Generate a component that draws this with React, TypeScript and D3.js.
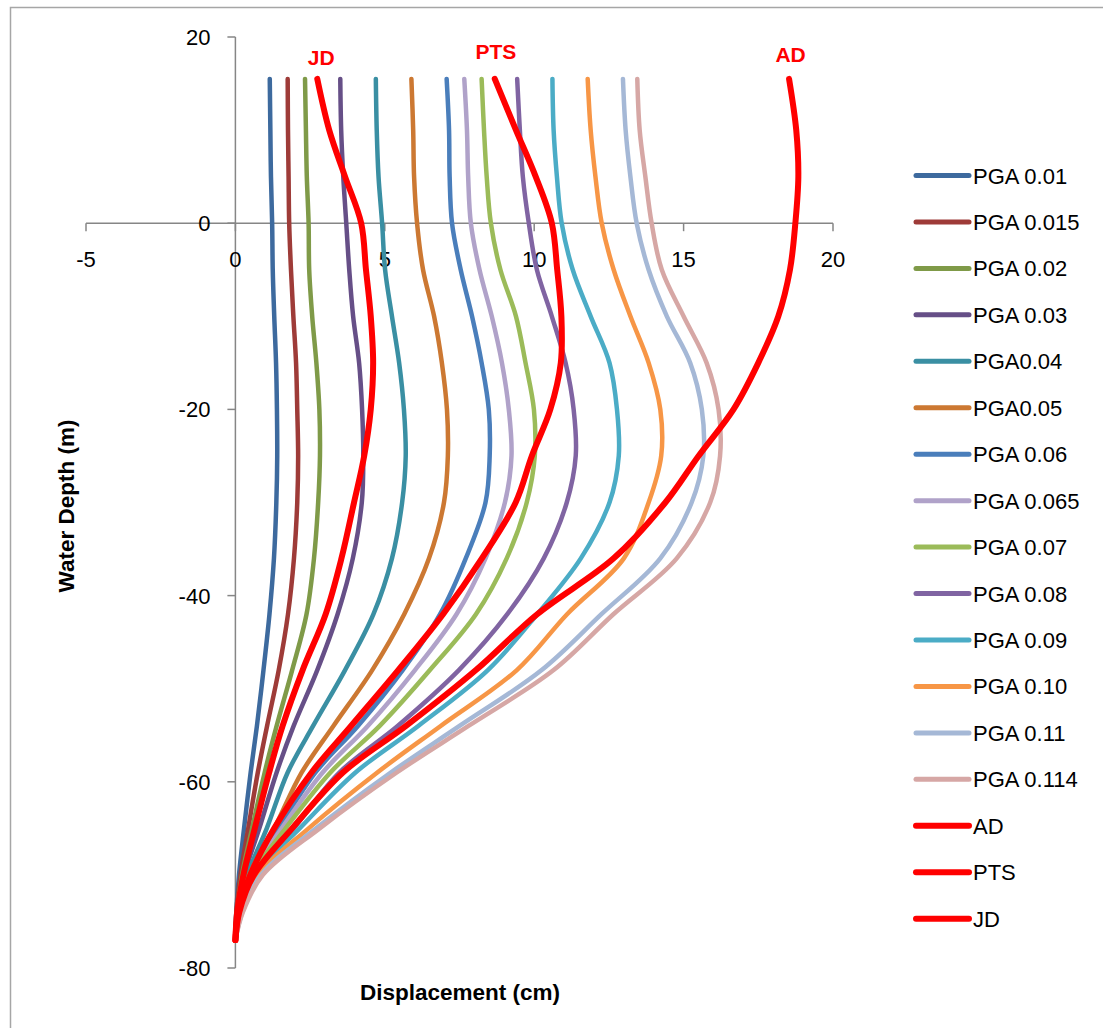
import React from "react";
import * as d3 from "d3";

const depths = [15.5, 10, 5, 0, -5, -10, -15, -20, -25, -30, -36, -42, -48, -54, -59, -65, -70, -74, -77];

const seriesNames = [
  "PGA 0.01", "PGA 0.015", "PGA 0.02", "PGA 0.03", "PGA0.04", "PGA0.05", "PGA 0.06", "PGA 0.065",
  "PGA 0.07", "PGA 0.08", "PGA 0.09", "PGA 0.10", "PGA 0.11", "PGA 0.114", "AD", "PTS", "JD",
];

const pga001 = [1.15, 1.17, 1.19, 1.23, 1.25, 1.30, 1.36, 1.39, 1.40, 1.37, 1.29, 1.14, 0.94, 0.72, 0.51, 0.29, 0.12, 0.03, 0];
const pga0015 = [1.75, 1.76, 1.78, 1.80, 1.86, 1.94, 2.03, 2.07, 2.10, 2.07, 1.96, 1.76, 1.45, 1.06, 0.75, 0.43, 0.17, 0.03, 0];
const pga002 = [2.33, 2.36, 2.39, 2.45, 2.47, 2.57, 2.71, 2.81, 2.83, 2.77, 2.63, 2.38, 1.90, 1.38, 0.98, 0.56, 0.22, 0.05, 0];
const pga003 = [3.51, 3.54, 3.61, 3.71, 3.81, 3.94, 4.14, 4.24, 4.28, 4.23, 3.93, 3.42, 2.74, 1.95, 1.38, 0.80, 0.30, 0.07, 0];
const pga004 = [4.70, 4.73, 4.79, 4.91, 5.01, 5.24, 5.48, 5.64, 5.70, 5.58, 5.24, 4.62, 3.67, 2.60, 1.75, 1.05, 0.40, 0.09, 0];
const pga005 = [5.89, 5.95, 5.98, 6.08, 6.28, 6.65, 6.91, 7.08, 7.11, 6.98, 6.48, 5.65, 4.58, 3.28, 2.22, 1.30, 0.46, 0.11, 0];
const pga006 = [7.07, 7.15, 7.17, 7.25, 7.54, 7.92, 8.24, 8.48, 8.51, 8.37, 7.71, 6.85, 5.60, 4.10, 2.68, 1.45, 0.50, 0.12, 0];
const pga0065 = [7.66, 7.75, 7.79, 7.88, 8.17, 8.58, 8.92, 9.15, 9.24, 9.02, 8.37, 7.40, 6.01, 4.43, 2.92, 1.55, 0.53, 0.13, 0];
const pga007 = [8.24, 8.32, 8.41, 8.55, 8.87, 9.39, 9.71, 9.99, 10.02, 9.75, 9.08, 8.05, 6.51, 4.83, 3.18, 1.68, 0.56, 0.14, 0];
const pga008 = [9.43, 9.52, 9.62, 9.82, 10.09, 10.59, 11.05, 11.32, 11.39, 11.09, 10.32, 9.10, 7.48, 5.43, 3.48, 1.95, 0.60, 0.16, 0];
const pga009 = [10.61, 10.65, 10.76, 10.92, 11.29, 11.89, 12.52, 12.77, 12.83, 12.52, 11.56, 10.10, 8.45, 6.12, 4.02, 2.15, 0.66, 0.18, 0];
const pga010 = [11.79, 11.89, 12.05, 12.26, 12.66, 13.22, 13.83, 14.22, 14.25, 13.83, 13.00, 11.10, 9.42, 6.87, 4.75, 2.45, 0.76, 0.21, 0];
const pga011 = [12.97, 13.06, 13.22, 13.43, 13.83, 14.44, 15.22, 15.61, 15.66, 15.27, 14.22, 12.25, 10.25, 7.50, 5.20, 2.70, 0.86, 0.23, 0];
const pga0114 = [13.45, 13.53, 13.72, 13.93, 14.27, 15.00, 15.77, 16.17, 16.22, 15.89, 14.77, 12.65, 10.65, 7.80, 5.40, 2.82, 0.92, 0.25, 0];
const ad = [18.53, 18.77, 18.84, 18.74, 18.56, 18.17, 17.50, 16.67, 15.50, 14.39, 12.66, 10.10, 8.05, 5.71, 3.60, 1.90, 0.62, 0.13, 0];
const pts = [8.68, 9.39, 10.05, 10.59, 10.77, 10.91, 10.89, 10.54, 9.92, 9.38, 8.25, 6.95, 5.45, 3.87, 2.55, 1.30, 0.50, 0.10, 0];
const jd = [2.74, 3.14, 3.67, 4.21, 4.37, 4.53, 4.61, 4.53, 4.31, 3.97, 3.55, 3.02, 2.25, 1.58, 1.13, 0.65, 0.27, 0.06, 0];

const seriesValues = [pga001, pga0015, pga002, pga003, pga004, pga005, pga006, pga0065, pga007, pga008, pga009, pga010, pga011, pga0114, ad, pts, jd];

const seriesColors = [
  "#3D6A9E", "#9E3B38", "#7F9A48", "#664F87", "#3A8FA3", "#CC7832", "#4A7EBB", "#B0A2C9",
  "#9BBB59", "#8064A2", "#4BACC6", "#F79646", "#A5B8D6", "#D6A7A5", "#FF0000", "#FF0000", "#FF0000",
];

const xTicks = [-5, 0, 5, 10, 15, 20];
const yTicks = [20, 0, -20, -40, -60, -80];

const topLabels = [
  { text: "JD", value: 2.87, depth: 17.85 },
  { text: "PTS", value: 8.72, depth: 18.5 },
  { text: "AD", value: 18.58, depth: 18.2 },
];

export default function App() {
  const x = d3.scaleLinear().domain([-5, 20]).range([86, 833]);
  const y = d3.scaleLinear().domain([20, -80]).range([37, 968]);
  const line = d3
    .line<[number, number]>()
    .x((p) => x(p[0]))
    .y((p) => y(p[1]))
    .curve(d3.curveCatmullRom.alpha(0.5));

  const font = "'Liberation Sans', Arial, sans-serif";
  const axisColor = "#868686";
  const legendY0 = 175.5;
  const legendStep = 46.45;

  return (
    <div style={{ position: "absolute", left: 0, top: 0 }}>
      <svg width={1103} height={1028} style={{ display: "block", background: "#fff" }}>
        <rect x={10.5} y={7.5} width={1200} height={1200} fill="none" stroke="#A6A6A6" strokeWidth={1.5} />
        {/* axes */}
        <line x1={x(-5)} x2={x(20)} y1={y(0)} y2={y(0)} stroke={axisColor} strokeWidth={1.5} />
        <line x1={x(0)} x2={x(0)} y1={y(20)} y2={y(-80)} stroke={axisColor} strokeWidth={1.5} />
        {xTicks.map((t) => (
          <g key={"xt" + t}>
            <line x1={x(t)} x2={x(t)} y1={y(0)} y2={y(0) + 8} stroke={axisColor} strokeWidth={1.5} />
            <text x={x(t)} y={y(0) + 44} textAnchor="middle" fontFamily={font} fontSize={22} fill="#000">
              {t}
            </text>
          </g>
        ))}
        {yTicks.map((t) => (
          <g key={"yt" + t}>
            <line x1={x(0) - 8} x2={x(0)} y1={y(t)} y2={y(t)} stroke={axisColor} strokeWidth={1.5} />
            <text x={x(0) - 25} y={y(t) + 8} textAnchor="end" fontFamily={font} fontSize={22} fill="#000">
              {t}
            </text>
          </g>
        ))}
        {/* series */}
        {seriesValues.map((vals, i) => {
          const pts2: [number, number][] = vals.map((v, k) => [v, depths[k]]);
          const isRed = i >= 14;
          return (
            <path
              key={seriesNames[i]}
              d={line(pts2) || ""}
              fill="none"
              stroke={seriesColors[i]}
              strokeWidth={isRed ? 6 : 4.5}
              strokeLinecap="round"
              strokeLinejoin="round"
            />
          );
        })}
        {topLabels.map((l) => (
          <text
            key={l.text}
            x={x(l.value)}
            y={y(l.depth) + 8}
            textAnchor="middle"
            fontFamily={font}
            fontWeight="bold"
            fontSize={21}
            fill="#FF0000"
          >
            {l.text}
          </text>
        ))}
        {/* axis titles */}
        <text
          x={460}
          y={1000}
          textAnchor="middle"
          fontFamily={font}
          fontWeight="bold"
          fontSize={22.5}
          fill="#000"
        >
          Displacement (cm)
        </text>
        <text
          transform="translate(74,506) rotate(-90)"
          textAnchor="middle"
          fontFamily={font}
          fontWeight="bold"
          fontSize={22.5}
          fill="#000"
        >
          Water Depth (m)
        </text>
        {/* legend */}
        {seriesNames.map((name, i) => {
          const ly = legendY0 + i * legendStep;
          return (
            <g key={"lg" + name}>
              <line
                x1={916}
                x2={969}
                y1={ly}
                y2={ly}
                stroke={seriesColors[i]}
                strokeWidth={i >= 14 ? 6 : 5}
                strokeLinecap="round"
              />
              <text x={973} y={ly + 8} fontFamily={font} fontSize={22} fill="#000">
                {name}
              </text>
            </g>
          );
        })}
      </svg>
    </div>
  );
}
